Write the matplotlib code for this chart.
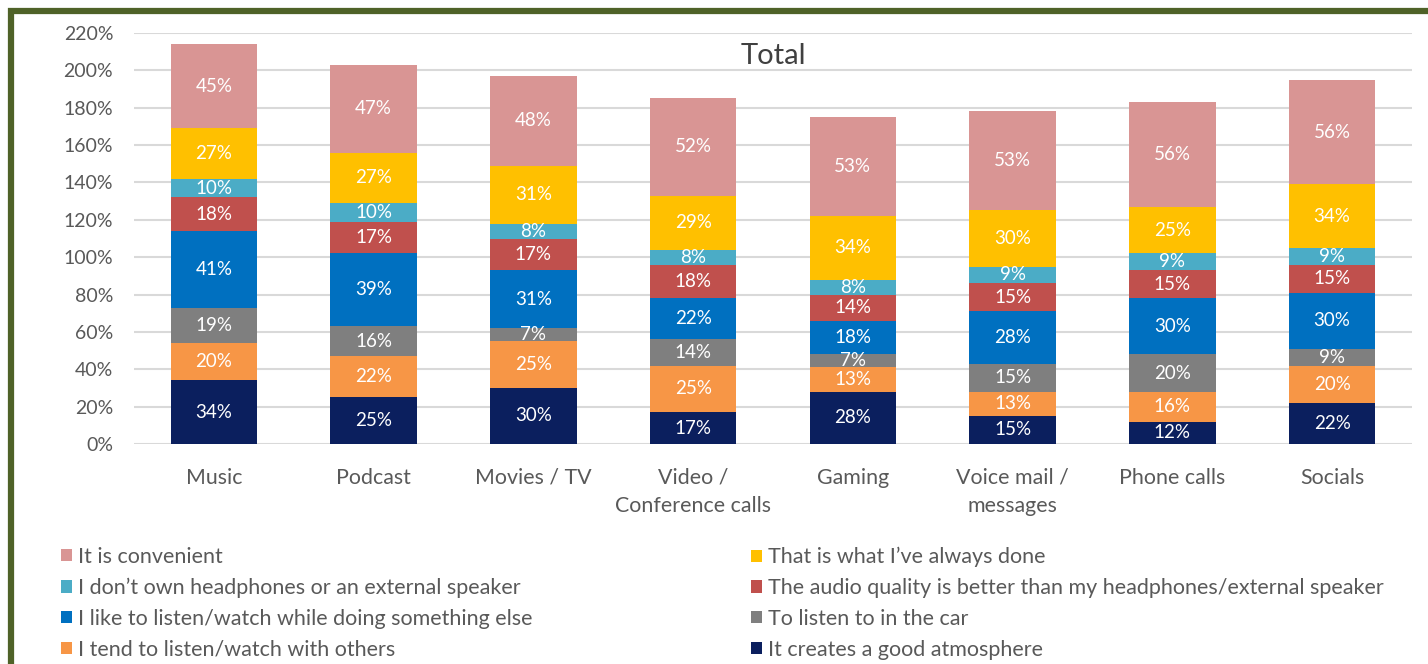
import matplotlib
matplotlib.use("Agg")
import matplotlib.pyplot as plt
from matplotlib.patches import Rectangle, Patch
import numpy as np

plt.rcParams['font.family'] = ['Lato', 'DejaVu Sans']

categories = ["Music", "Podcast", "Movies / TV", "Video /\nConference calls", "Gaming",
              "Voice mail /\nmessages", "Phone calls", "Socials"]

# stacked bottom -> top
series_names = [
    "It creates a good atmosphere",
    "I tend to listen/watch with others",
    "To listen to in the car",
    "I like to listen/watch while doing something else",
    "The audio quality is better than my headphones/external speaker",
    "I don\u2019t own headphones or an external speaker",
    "That is what I\u2019ve always done",
    "It is convenient",
]
atmosphere = [34, 25, 30, 17, 28, 15, 12, 22]
with_others = [20, 22, 25, 25, 13, 13, 16, 20]
in_car = [19, 16, 7, 14, 7, 15, 20, 9]
while_other = [41, 39, 31, 22, 18, 28, 30, 30]
audio_better = [18, 17, 17, 18, 14, 15, 15, 15]
no_headphones = [10, 10, 8, 8, 8, 9, 9, 9]
always_done = [27, 27, 31, 29, 34, 30, 25, 34]
convenient = [45, 47, 48, 52, 53, 53, 56, 56]

series_values = [atmosphere, with_others, in_car, while_other,
                 audio_better, no_headphones, always_done, convenient]
colors = ["#0B1F5E", "#F79646", "#7F7F7F", "#0070C0",
          "#C0504D", "#4BACC6", "#FFC000", "#D99594"]

text_gray = "#595959"

fig = plt.figure(figsize=(14.28, 6.64), dpi=100)
ax = fig.add_axes([134 / 1428, 1 - 444 / 664, (1412 - 134) / 1428, (444 - 33) / 664])

x = np.arange(len(categories))
bottom = np.zeros(len(categories))
for name, vals, col in zip(series_names, series_values, colors):
    v = np.array(vals) / 100.0
    ax.bar(x, v, 0.54, bottom=bottom, color=col, label=name, zorder=3)
    for xi, b, h, lab in zip(x, bottom, v, vals):
        ax.text(xi, b + h / 2, f"{lab}%", ha='center', va='center',
                color='white', fontsize=13.5, zorder=4)
    bottom += v

ax.set_xlim(-0.5, len(categories) - 0.5)
ax.set_ylim(0, 2.2)
yt = np.arange(0, 2.21, 0.2)
ax.set_yticks(yt)
ax.set_yticklabels([f"{int(round(t * 100))}%" for t in yt])
ax.set_xticks(x)
ax.set_xticklabels(categories, linespacing=1.53)
ax.tick_params(axis='y', length=0, pad=15, labelsize=14, labelcolor=text_gray)
ax.tick_params(axis='x', length=0, pad=17, labelsize=15.4, labelcolor=text_gray)
ax.grid(axis='y', color='#D9D9D9', linewidth=1.5, zorder=0)
for s in ax.spines.values():
    s.set_visible(False)

ax.text(0.5, 0.945, "Total", transform=ax.transAxes, ha='center', va='center',
        fontsize=21, color='#404040')

# legend: two columns, top series first
handles = {n: Patch(facecolor=c) for n, c in zip(series_names, colors)}
left_names = [series_names[7], series_names[5], series_names[3], series_names[1]]
right_names = [series_names[6], series_names[4], series_names[2], series_names[0]]
for names, xpos in [(left_names, 61 / 1428), (right_names, 751 / 1428)]:
    leg = fig.legend([handles[n] for n in names], names, loc='upper left',
                     bbox_to_anchor=(xpos, 1 - 547 / 664), frameon=False,
                     fontsize=15.5, handlelength=0.5, handleheight=0.5,
                     handletextpad=0.3, labelspacing=0.5, borderpad=0,
                     borderaxespad=0)
    for t in leg.get_texts():
        t.set_color(text_gray)

fig.patches.append(Rectangle((11 / 1428, -0.1), 1.2, 1 - 11 / 664 + 0.1,
                             transform=fig.transFigure, fill=False,
                             edgecolor='#4F6228', linewidth=4.5, clip_on=False))

fig.savefig("out.png", dpi=100, facecolor='white')
